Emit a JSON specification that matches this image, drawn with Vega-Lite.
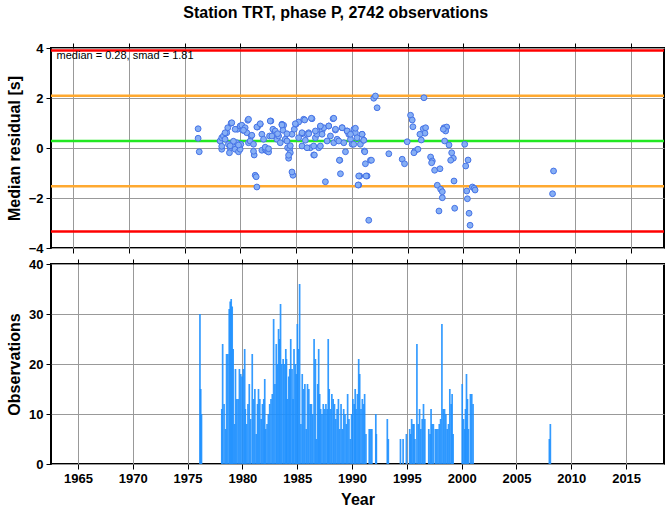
{
  "$schema": "https://vega.github.io/schema/vega-lite/v6.json",
  "background": "white",
  "padding": 5,
  "spacing": 16,
  "bounds": "flush",
  "title": {"text": "Station TRT, phase P, 2742 observations", "font": "Liberation Sans", "fontSize": 16, "fontWeight": "bold", "color": "black", "anchor": "middle", "offset": 20},
  "config": {
    "font": "Liberation Sans",
    "view": {"stroke": "black", "strokeWidth": 2},
    "axis": {"domain": false, "grid": true, "gridColor": "#999999", "gridWidth": 1, "tickColor": "black", "tickSize": 5, "tickWidth": 1, "labelFont": "Liberation Sans", "labelFontSize": 13, "labelFontWeight": "bold", "labelColor": "black", "labelPadding": 3, "titleFont": "Liberation Sans", "titleFontSize": 16, "titleFontWeight": "bold", "titleColor": "black"}
  },
  "datasets": {
    "levels": [
      {"level": 3.90, "kind": "2 smad"},
      {"level": 2.09, "kind": "1 smad"},
      {"level": 0.28, "kind": "median"},
      {"level": -1.53, "kind": "1 smad"},
      {"level": -3.34, "kind": "2 smad"}
    ],
    "resid": [
      {"t":1976.2,"r":0.77},{"t":1976.2,"r":0.39},{"t":1976.3,"r":-0.15},
      {"t":1978.17,"r":0.28},{"t":1978.32,"r":0.41},{"t":1978.47,"r":0.48},{"t":1978.62,"r":0.35},{"t":1978.77,"r":0.61},{"t":1978.86,"r":0.81},{"t":1979.16,"r":0.99},{"t":1978.92,"r":0.15},{"t":1979.07,"r":0.01},{"t":1978.32,"r":-0.05},{"t":1979.01,"r":-0.19},{"t":1979.31,"r":0.08},{"t":1979.52,"r":-0.05},{"t":1979.67,"r":0.21},{"t":1979.82,"r":-0.15},{"t":1979.97,"r":-0.05},{"t":1980.03,"r":0.15},{"t":1979.73,"r":0.75},{"t":1979.97,"r":0.88},{"t":1980.21,"r":0.71},{"t":1980.12,"r":0.91},{"t":1980.42,"r":0.81},{"t":1980.66,"r":1.11},{"t":1980.57,"r":0.61},{"t":1980.72,"r":0.21},{"t":1980.87,"r":0.28},{"t":1980.96,"r":0.48},
      {"t":1981.17,"r":0.15},{"t":1981.23,"r":-0.28},{"t":1981.32,"r":-1.09},{"t":1981.41,"r":-1.15},{"t":1981.47,"r":-1.56},{"t":1981.53,"r":0.84},{"t":1981.77,"r":0.95},{"t":1981.92,"r":0.55},{"t":1982.07,"r":0.35},{"t":1981.92,"r":-0.09},{"t":1982.22,"r":-0.05},{"t":1982.37,"r":-0.12},{"t":1982.52,"r":-0.16},{"t":1982.61,"r":0.48},{"t":1982.73,"r":1.08},{"t":1982.91,"r":0.75},{"t":1983.12,"r":0.68},{"t":1982.97,"r":0.52},{"t":1983.27,"r":0.35},{"t":1983.42,"r":0.48},{"t":1983.57,"r":0.21},{"t":1983.72,"r":0.95},{"t":1983.87,"r":0.91},{"t":1983.81,"r":0.71},
      {"t":1984.02,"r":0.35},{"t":1984.17,"r":0.28},{"t":1984.23,"r":0.01},{"t":1984.32,"r":-0.41},{"t":1984.41,"r":-0.05},{"t":1984.47,"r":-0.19},{"t":1984.62,"r":0.55},{"t":1984.71,"r":-1.09},{"t":1984.83,"r":0.75},{"t":1984.98,"r":0.95},{"t":1985.22,"r":1.04},{"t":1985.52,"r":0.57},{"t":1985.67,"r":1.15},{"t":1985.82,"r":0.31},{"t":1985.97,"r":0.55},{"t":1986.12,"r":0.61},{"t":1986.27,"r":0.01},{"t":1986.42,"r":1.17},{"t":1986.57,"r":-0.28},{"t":1986.72,"r":0.41},{"t":1986.87,"r":0.55},{"t":1987.02,"r":0.01},{"t":1987.17,"r":0.84},{"t":1987.32,"r":0.68},{"t":1987.47,"r":0.81},{"t":1987.62,"r":-1.35},{"t":1987.77,"r":0.28},{"t":1987.92,"r":0.88},{"t":1988.07,"r":0.48},{"t":1988.31,"r":1.17},{"t":1988.37,"r":0.21},{"t":1988.52,"r":0.72},{"t":1988.67,"r":0.35},{"t":1988.82,"r":0.28},{"t":1988.91,"r":-0.49},{"t":1988.97,"r":-1.03},{"t":1989.12,"r":0.81},{"t":1989.27,"r":0.21},{"t":1989.42,"r":-0.15},{"t":1989.57,"r":0.68},{"t":1989.72,"r":0.55},{"t":1989.87,"r":0.35},{"t":1990.02,"r":0.15},{"t":1990.17,"r":0.75},{"t":1990.31,"r":0.61},{"t":1990.46,"r":0.41},{"t":1990.61,"r":-1.48},{"t":1990.70,"r":-1.12},{"t":1990.76,"r":0.15},{"t":1990.91,"r":0.55},{"t":1991.06,"r":0.31},{"t":1991.12,"r":-0.12},{"t":1991.21,"r":-0.63},{"t":1991.36,"r":-1.12},{"t":1991.51,"r":-2.89},{"t":1991.66,"r":-0.49},{"t":1991.96,"r":1.99},{"t":1992.11,"r":2.08},{"t":1992.26,"r":1.61},
      {"t":1978.62,"r":0.61},{"t":1979.22,"r":1.01},{"t":1979.52,"r":0.75},{"t":1980.27,"r":0.71},{"t":1980.72,"r":1.15},{"t":1981.02,"r":0.51},{"t":1981.47,"r":0.84},{"t":1981.77,"r":0.97},{"t":1982.67,"r":1.08},{"t":1982.82,"r":0.48},{"t":1983.33,"r":0.57},{"t":1983.72,"r":0.92},{"t":1984.17,"r":0.57},{"t":1984.92,"r":0.97},{"t":1985.22,"r":0.41},{"t":1979.37,"r":0.27},{"t":1979.82,"r":0.12},{"t":1979.07,"r":0.09},{"t":1978.32,"r":0.07},{"t":1981.17,"r":-0.13},{"t":1982.22,"r":0.03},{"t":1982.52,"r":-0.03},{"t":1984.32,"r":-0.29},{"t":1984.47,"r":0.09},{"t":1984.62,"r":-0.96},
      {"t":1985.76,"r":1.12},{"t":1986.36,"r":1.19},{"t":1985.52,"r":0.61},{"t":1986.12,"r":0.57},{"t":1986.72,"r":0.68},{"t":1987.17,"r":0.88},{"t":1987.32,"r":0.55},{"t":1987.92,"r":0.88},{"t":1988.37,"r":1.19},{"t":1988.52,"r":0.75},{"t":1989.12,"r":0.81},{"t":1989.57,"r":0.68},{"t":1989.87,"r":0.55},{"t":1990.31,"r":0.79},{"t":1990.91,"r":0.55},{"t":1991.06,"r":0.31},{"t":1985.52,"r":0.08},{"t":1985.97,"r":0.01},{"t":1986.57,"r":0.08},{"t":1987.17,"r":0.08},{"t":1986.63,"r":-0.28},{"t":1988.88,"r":-0.49},{"t":1990.61,"r":-1.12},{"t":1991.27,"r":-1.12},{"t":1991.75,"r":-0.49},{"t":1990.55,"r":-1.48},{"t":1991.15,"r":-0.15},{"t":1990.16,"r":0.15},
      {"t":1993.31,"r":-0.23},{"t":1994.51,"r":-0.45},{"t":1994.72,"r":-0.63},{"t":1994.96,"r":0.25},{"t":1995.26,"r":1.31},{"t":1995.41,"r":1.12},{"t":1995.47,"r":0.85},{"t":1996.40,"r":0.77},{"t":1996.61,"r":0.81},{"t":1996.55,"r":0.59},{"t":1996.10,"r":0.55},{"t":1996.22,"r":0.32},{"t":1996.46,"r":2.01},{"t":1995.65,"r":-0.12},{"t":1995.92,"r":-0.05},{"t":1995.56,"r":-0.19},
      {"t":1998.26,"r":0.81},{"t":1998.50,"r":0.84},{"t":1998.41,"r":0.68},{"t":1998.20,"r":0.75},{"t":1998.32,"r":0.28},{"t":1998.71,"r":0.12},{"t":1998.95,"r":-0.19},{"t":1999.10,"r":-0.41},{"t":1998.86,"r":-0.49},{"t":1997.06,"r":-0.36},{"t":1997.21,"r":-0.52},{"t":1997.15,"r":-0.59},{"t":1997.42,"r":-0.89},{"t":1997.90,"r":-0.83},{"t":1997.66,"r":-1.49},{"t":1997.96,"r":-1.65},{"t":1998.11,"r":-1.75},{"t":1998.11,"r":-1.99},{"t":1997.81,"r":-2.52},{"t":1999.16,"r":-1.32},{"t":1999.22,"r":-2.41},
      {"t":2000.12,"r":0.15},{"t":2000.42,"r":-0.48},{"t":2000.21,"r":-0.72},{"t":2000.30,"r":-1.72},{"t":2000.36,"r":-2.03},{"t":2000.81,"r":-1.56},{"t":2000.96,"r":-1.61},{"t":2001.05,"r":-1.68},{"t":2000.51,"r":-2.61},{"t":2000.60,"r":-3.09},{"t":2008.09,"r":-0.92},{"t":2008.0,"r":-1.83}
    ],
    "obs": [
      {"t":1976.13,"n":30},{"t":1976.2,"n":15},{"t":1976.27,"n":10},
      {"t":1978.12,"n":11},{"t":1978.20,"n":24},{"t":1978.33,"n":12},{"t":1978.47,"n":7},{"t":1978.56,"n":22},{"t":1978.68,"n":22},{"t":1978.80,"n":31},{"t":1978.89,"n":32.5},{"t":1978.98,"n":33},{"t":1979.07,"n":31.5},{"t":1979.16,"n":23},{"t":1979.28,"n":8},{"t":1979.37,"n":19},{"t":1979.49,"n":13},{"t":1979.61,"n":13},{"t":1979.73,"n":19},{"t":1979.85,"n":18},{"t":1979.97,"n":17.5},{"t":1980.09,"n":19},{"t":1980.21,"n":23},{"t":1980.27,"n":11},{"t":1980.39,"n":8},{"t":1980.51,"n":12},{"t":1980.63,"n":16},{"t":1980.75,"n":9},{"t":1980.90,"n":22},{"t":1981.02,"n":13},{"t":1981.14,"n":15},{"t":1981.26,"n":6},{"t":1981.38,"n":12},{"t":1981.47,"n":15},{"t":1981.59,"n":13},{"t":1981.71,"n":9},{"t":1981.83,"n":12},{"t":1981.95,"n":13},{"t":1982.04,"n":17},{"t":1982.13,"n":7},{"t":1982.25,"n":8},{"t":1982.37,"n":10},{"t":1982.49,"n":12},{"t":1982.61,"n":13},{"t":1982.73,"n":14},{"t":1982.85,"n":29},{"t":1982.97,"n":16},{"t":1983.09,"n":24},{"t":1983.18,"n":20},{"t":1983.30,"n":27},{"t":1983.39,"n":25},{"t":1983.48,"n":32},{"t":1983.60,"n":20},{"t":1983.72,"n":21},{"t":1983.84,"n":20},{"t":1983.96,"n":23},
      {"t":1984.02,"n":21},{"t":1984.11,"n":13},{"t":1984.23,"n":17.5},{"t":1984.32,"n":19},{"t":1984.41,"n":25},{"t":1984.53,"n":19},{"t":1984.62,"n":13},{"t":1984.71,"n":23},{"t":1984.83,"n":20},{"t":1984.92,"n":18},{"t":1985.01,"n":28},{"t":1985.13,"n":23},{"t":1985.22,"n":36},{"t":1985.34,"n":8},{"t":1985.46,"n":18},{"t":1985.58,"n":15},{"t":1985.70,"n":16},{"t":1985.82,"n":7},{"t":1985.94,"n":16},{"t":1986.06,"n":15},{"t":1986.18,"n":12},{"t":1986.30,"n":12},{"t":1986.42,"n":10},{"t":1986.54,"n":25},{"t":1986.66,"n":21},{"t":1986.75,"n":5},{"t":1986.87,"n":16},{"t":1986.96,"n":23},{"t":1987.05,"n":14},{"t":1987.14,"n":11},{"t":1987.26,"n":10},{"t":1987.38,"n":12},{"t":1987.50,"n":11},{"t":1987.62,"n":12},{"t":1987.74,"n":11},{"t":1987.83,"n":25},{"t":1987.92,"n":15},{"t":1988.04,"n":11},{"t":1988.16,"n":14},{"t":1988.28,"n":13},{"t":1988.40,"n":12},{"t":1988.52,"n":9},{"t":1988.64,"n":11},{"t":1988.76,"n":13},{"t":1988.88,"n":7},{"t":1989.00,"n":12},{"t":1989.12,"n":7},{"t":1989.24,"n":11},{"t":1989.36,"n":10},{"t":1989.48,"n":8},{"t":1989.60,"n":14},{"t":1989.72,"n":9},{"t":1989.84,"n":5},{"t":1989.96,"n":10},{"t":1990.08,"n":13},{"t":1990.20,"n":12},{"t":1990.29,"n":15},{"t":1990.37,"n":11},{"t":1990.49,"n":14},{"t":1990.61,"n":21},{"t":1990.70,"n":18},{"t":1990.82,"n":11},{"t":1990.94,"n":13},{"t":1991.06,"n":12},{"t":1991.15,"n":14},{"t":1991.27,"n":6},{"t":1991.57,"n":7},{"t":1991.69,"n":7},{"t":1991.81,"n":7},{"t":1992.17,"n":10},{"t":1992.22,"n":6},
      {"t":1993.22,"n":9},{"t":1993.31,"n":5},{"t":1994.42,"n":5},{"t":1994.66,"n":5},{"t":1994.96,"n":6},{"t":1995.26,"n":7},{"t":1995.35,"n":6},{"t":1995.44,"n":9},{"t":1995.56,"n":8},{"t":1995.65,"n":8},{"t":1995.74,"n":5},{"t":1995.92,"n":24},{"t":1996.04,"n":8},{"t":1996.16,"n":11},{"t":1996.28,"n":7},{"t":1996.40,"n":9},{"t":1996.52,"n":12},{"t":1996.64,"n":9},{"t":1997.0,"n":7},{"t":1997.12,"n":6},{"t":1997.21,"n":11},{"t":1997.30,"n":8},{"t":1997.42,"n":8},{"t":1997.60,"n":7},{"t":1997.72,"n":7},{"t":1997.84,"n":7},{"t":1997.96,"n":8},{"t":1998.08,"n":9},{"t":1998.20,"n":28},{"t":1998.32,"n":11},{"t":1998.44,"n":11},{"t":1998.56,"n":10},{"t":1998.68,"n":7},{"t":1998.80,"n":8},{"t":1998.92,"n":15},{"t":1999.04,"n":12},{"t":1999.13,"n":14},{"t":1999.22,"n":6},{"t":2000.05,"n":16},{"t":2000.17,"n":9},{"t":2000.29,"n":7},{"t":2000.35,"n":11},{"t":2000.44,"n":18},{"t":2000.53,"n":13},{"t":2000.62,"n":7},{"t":2000.80,"n":14},{"t":2000.92,"n":14},{"t":2001.04,"n":12},{"t":2008.0,"n":5},{"t":2008.09,"n":8}
    ]
  },
  "vconcat": [
    {
      "width": 613,
      "height": 200,
      "layer": [
        {
          "data": {"name": "levels"},
          "mark": {"type": "rule", "strokeWidth": 2.5},
          "encoding": {
            "y": {"field": "level", "type": "quantitative", "scale": {"domain": [-4, 4], "nice": false}, "axis": {"title": "Median residual [s]", "values": [-4, -2, 0, 2, 4], "titlePadding": 6}},
            "color": {"field": "kind", "type": "nominal", "scale": {"domain": ["median", "1 smad", "2 smad"], "range": ["#22e822", "#ffa930", "#ff0000"]}, "legend": null}
          }
        },
        {
          "data": {"name": "resid"},
          "mark": {"type": "circle", "size": 34, "fill": "#86aff5", "stroke": "#4673e6", "strokeWidth": 1, "opacity": 1},
          "encoding": {
            "x": {"field": "t", "type": "quantitative", "scale": {"domain": [1963, 2018], "nice": false, "zero": false}, "axis": {"orient": "bottom", "values": [1965, 1970, 1975, 1980, 1985, 1990, 1995, 2000, 2005, 2010, 2015], "labels": false, "title": null}},
            "y": {"field": "r", "type": "quantitative"}
          }
        },
        {
          "data": {"values": [{"label": "median = 0.28, smad = 1.81"}]},
          "mark": {"type": "text", "align": "left", "baseline": "middle", "fontSize": 11, "font": "Liberation Sans", "color": "black"},
          "encoding": {
            "x": {"datum": 1963.5, "type": "quantitative", "axis": {"orient": "top", "values": [1965, 1970, 1975, 1980, 1985, 1990, 1995, 2000, 2005, 2010, 2015], "labels": false, "title": null, "grid": false}},
            "y": {"datum": 3.7, "type": "quantitative"},
            "text": {"field": "label"}
          }
        }
      ]
    },
    {
      "width": 613,
      "height": 200,
      "layer": [
        {
          "data": {"name": "obs"},
          "mark": {"type": "bar", "size": 1.7, "color": "#1e90ff", "opacity": 0.9},
          "encoding": {
            "x": {"field": "t", "type": "quantitative", "scale": {"domain": [1963, 2018], "nice": false, "zero": false}, "axis": {"orient": "bottom", "values": [1965, 1970, 1975, 1980, 1985, 1990, 1995, 2000, 2005, 2010, 2015], "format": "d", "title": "Year", "titlePadding": 6}},
            "y": {"field": "n", "type": "quantitative", "scale": {"domain": [0, 40], "nice": false}, "axis": {"title": "Observations", "values": [0, 10, 20, 30, 40], "titlePadding": 6}}
          }
        },
        {
          "data": {"values": [{"t": 1963}]},
          "mark": {"type": "tick", "opacity": 0},
          "encoding": {
            "x": {"field": "t", "type": "quantitative", "axis": {"orient": "top", "values": [1965, 1970, 1975, 1980, 1985, 1990, 1995, 2000, 2005, 2010, 2015], "labels": false, "title": null, "grid": false}}
          }
        }
      ]
    }
  ]
}
